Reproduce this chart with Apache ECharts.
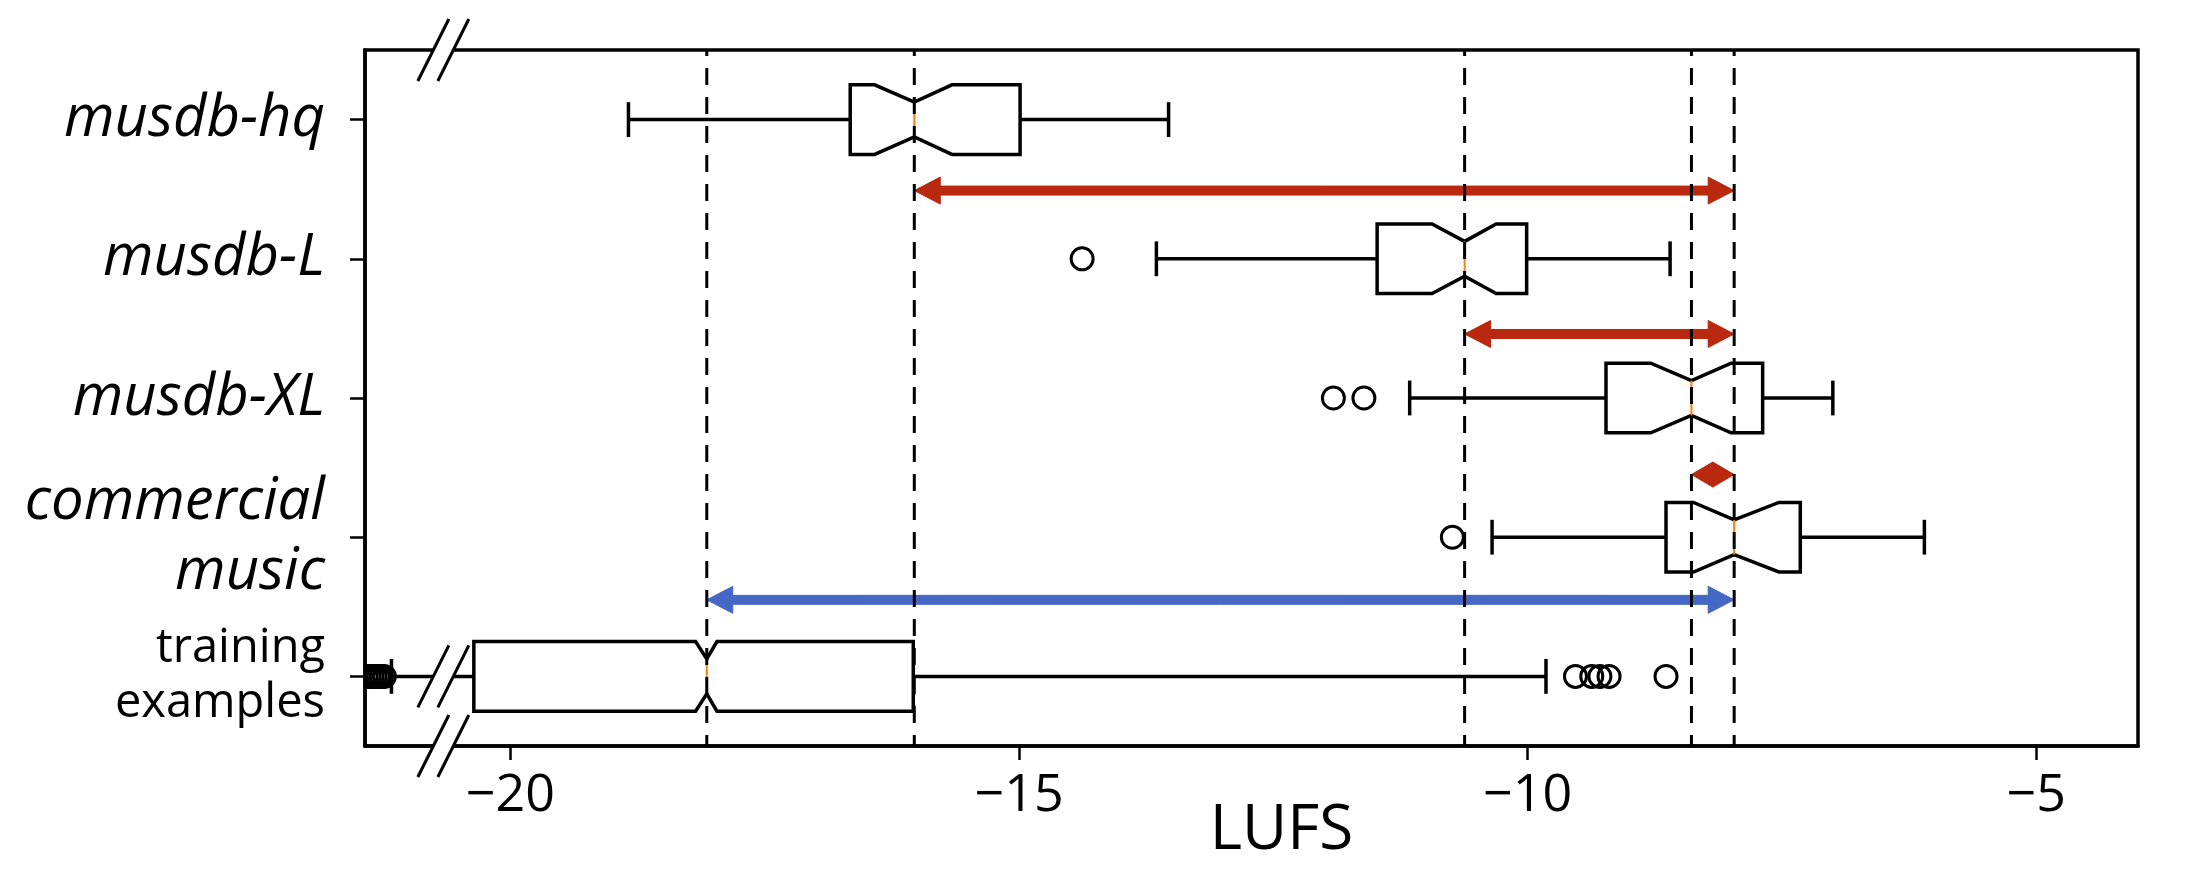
<!DOCTYPE html>
<html>
<head>
<meta charset="utf-8">
<script src="https://cdn.jsdelivr.net/npm/echarts@6/dist/echarts.min.js"></script>
<style>
  html, body { margin: 0; padding: 0; background: #fff; }
  #chart { width: 2186px; height: 884px; }
</style>
</head>
<body>
<div id="chart"></div>
<script>
// ---- data (LUFS) ----
const categories = ['musdb-hq', 'musdb-L', 'musdb-XL', 'commercial\nmusic', 'training\nexamples'];
const whiskerLow = [-18.84, -13.65, -11.16, -10.35, -21.17];
const q1 = [-16.66, -11.48, -9.23, -8.64, -20.36];
const notchLow = [-16.42, -10.94, -8.79, -8.37, -18.18];
const medians = [-16.03, -10.62, -8.39, -7.97, -18.07];
const notchHigh = [-15.66, -10.31, -8.00, -7.53, -17.97];
const q3 = [-14.99, -10.01, -7.69, -7.32, -16.04];
const whiskerHigh = [-13.53, -8.60, -7.00, -6.10, -9.82];
const outliers = [
  [],
  [-14.38],
  [-11.91, -11.61],
  [-10.74],
  [-21.24, -21.27, -21.30, -21.33, -21.36, -21.39, -21.42, -9.53, -9.37, -9.29, -9.20, -8.64]
];
const xTicks = [-20, -15, -10, -5];
// arrows between medians: [from category, to category], drawn at a row between categories
const arrowPairs = [[0, 3], [1, 3], [2, 3], [4, 3]];
const arrowRow = [0.51, 1.54, 2.55, 3.45];
const axisBreak = -20.66;

// ---- styles ----
const RED = '#b8290f';
const BLUE = '#4668c5';
const FONT = '"Open Sans", "Noto Sans", sans-serif';
const LW = 3.5;

const chart = echarts.init(document.getElementById('chart'));

function renderBox(params, api) {
  const cat = api.value(0);
  const h = api.size([0, 1])[1] * 0.25;
  const y = api.coord([0, cat])[1];
  const X = i => api.coord([api.value(i), cat])[0];
  const wl = X(1), b1 = X(2), n1 = X(3), md = X(4), n2 = X(5), b3 = X(6), wh = X(7);
  const ln = { stroke: '#000', lineWidth: LW };
  const pts = [[b1, y - h], [n1, y - h], [md, y - h / 2], [n2, y - h], [b3, y - h],
               [b3, y + h], [n2, y + h], [md, y + h / 2], [n1, y + h], [b1, y + h]];
  return {
    type: 'group',
    children: [
      { type: 'line', shape: { x1: wl, y1: y, x2: b1, y2: y }, style: ln },
      { type: 'line', shape: { x1: b3, y1: y, x2: wh, y2: y }, style: ln },
      { type: 'line', shape: { x1: wl, y1: y - h / 2, x2: wl, y2: y + h / 2 }, style: ln },
      { type: 'line', shape: { x1: wh, y1: y - h / 2, x2: wh, y2: y + h / 2 }, style: ln },
      { type: 'polygon', shape: { points: pts }, style: { fill: 'none', stroke: '#000', lineWidth: LW, lineJoin: 'miter' } },
      { type: 'line', shape: { x1: md, y1: y - h / 2, x2: md, y2: y + h / 2 }, style: { stroke: '#ff7f0e', lineWidth: 2 } }
    ]
  };
}

function renderOutlier(params, api) {
  const p = api.coord([api.value(0), api.value(1)]);
  return { type: 'circle', shape: { cx: p[0], cy: p[1], r: 11 }, style: { fill: 'none', stroke: '#000', lineWidth: 3 } };
}

function renderArrow(params, api) {
  const a = api.coord([api.value(0), api.value(2)]);
  const b = api.coord([api.value(1), api.value(2)]);
  const x1 = Math.min(a[0], b[0]), x2 = Math.max(a[0], b[0]), y = a[1];
  const len = x2 - x1;
  const hl = Math.min(26, len / 2);
  const hw = len < 52 ? 12.5 : 13.5;
  const s = 4.5;
  const pts = [[x1, y], [x1 + hl, y - hw], [x1 + hl, y - s], [x2 - hl, y - s], [x2 - hl, y - hw], [x2, y],
               [x2 - hl, y + hw], [x2 - hl, y + s], [x1 + hl, y + s], [x1 + hl, y + hw]];
  const color = params.dataIndex === 3 ? BLUE : RED;
  return { type: 'polygon', shape: { points: pts }, style: { fill: color, stroke: color, lineWidth: 1 } };
}

function renderDash(params, api) {
  const top = api.coord([api.value(0), -0.5]);
  const bot = api.coord([api.value(0), 4.5]);
  return { type: 'line', shape: { x1: bot[0], y1: bot[1], x2: top[0], y2: top[1] },
           style: { stroke: '#000', lineWidth: 3, lineDash: [17, 12], lineDashOffset: 6 } };
}

function renderBreak(params, api) {
  const c = api.coord([api.value(0), api.value(1)]);
  const cx = c[0], cy = c[1], d = 10, dx = 15.5, dy = 31;
  const slash = o => ({ type: 'line', shape: { x1: cx + o - dx, y1: cy + dy, x2: cx + o + dx, y2: cy - dy },
                        style: { stroke: '#000', lineWidth: 3 } });
  return {
    type: 'group',
    children: [
      { type: 'polygon', shape: { points: [[cx - d - dx, cy + dy], [cx + d - dx, cy + dy], [cx + d + dx, cy - dy], [cx - d + dx, cy - dy]] },
        style: { fill: '#fff', stroke: null } },
      slash(-d), slash(d)
    ]
  };
}

const boxData = categories.map((c, i) => [i, whiskerLow[i], q1[i], notchLow[i], medians[i], notchHigh[i], q3[i], whiskerHigh[i]]);
const outlierData = [];
outliers.forEach((list, i) => list.forEach(v => outlierData.push([v, i])));
const arrowData = arrowPairs.map((p, i) => [medians[p[0]], medians[p[1]], arrowRow[i]]);

const option = {
  backgroundColor: '#fff',
  animation: false,
  grid: {
    left: 365, right: 48, top: 50, bottom: 138,
    show: true, borderColor: '#000', borderWidth: 3.5,
    outerBoundsMode: 'none'
  },
  xAxis: {
    type: 'value',
    min: -21.43,
    max: -4.0,
    name: 'LUFS',
    nameLocation: 'middle',
    nameGap: 54,
    nameMoveOverlap: false,
    nameTextStyle: { fontFamily: FONT, fontSize: 62, color: '#000', padding: [0, 0, 0, 60] },
    axisLine: { show: true, onZero: false, lineStyle: { color: '#000', width: 3.5 } },
    axisTick: { show: true, customValues: xTicks, length: 14, lineStyle: { color: '#000', width: 2.5 } },
    axisLabel: {
      customValues: xTicks,
      margin: 24,
      fontFamily: FONT, fontSize: 52, color: '#000',
      formatter: v => (v < 0 ? '\u2212' : '') + Math.abs(v)
    },
    splitLine: { show: false }
  },
  yAxis: [{
    type: 'category',
    data: categories,
    inverse: true,
    axisLine: { show: true, onZero: false, lineStyle: { color: '#000', width: 3.5 } },
    axisTick: { show: true, alignWithLabel: true, length: 15, lineStyle: { color: '#000', width: 2.5 } },
    axisLabel: {
      margin: 40,
      formatter: v => {
        const tag = v.indexOf('training') === 0 ? 'rm' : 'it';
        return v.split('\n').map(s => '{' + tag + '|' + s + '}').join('\n');
      },
      rich: {
        it: { fontFamily: FONT, fontStyle: 'italic', fontSize: 58, lineHeight: 70, color: '#000', align: 'right' },
        rm: { fontFamily: FONT, fontSize: 47, lineHeight: 55, color: '#000', align: 'right' }
      }
    },
    splitLine: { show: false }
  }, {
    type: 'value',
    min: -0.5,
    max: 4.5,
    inverse: true,
    show: false
  }],
  series: [
    {
      type: 'custom', name: 'boxes', z: 2, clip: true,
      renderItem: renderBox,
      encode: { y: 0, x: [1, 2, 3, 4, 5, 6, 7] },
      data: boxData
    },
    {
      type: 'custom', name: 'outliers', z: 3, clip: true,
      renderItem: renderOutlier,
      encode: { x: 0, y: 1 },
      data: outlierData
    },
    {
      type: 'custom', name: 'arrows', z: 4, yAxisIndex: 1,
      renderItem: renderArrow,
      encode: { x: [0, 1], y: 2 },
      data: arrowData
    },
    {
      type: 'custom', name: 'medians', z: 5, yAxisIndex: 1,
      renderItem: renderDash,
      encode: { x: 0, y: 1 },
      data: medians.map(v => [v, 0])
    },
    {
      type: 'custom', name: 'break', z: 6, yAxisIndex: 1,
      renderItem: renderBreak,
      encode: { x: 0, y: 1 },
      data: [[axisBreak, -0.5], [axisBreak, 4], [axisBreak, 4.5]]
    }
  ]
};

chart.setOption(option);
</script>
</body>
</html>
